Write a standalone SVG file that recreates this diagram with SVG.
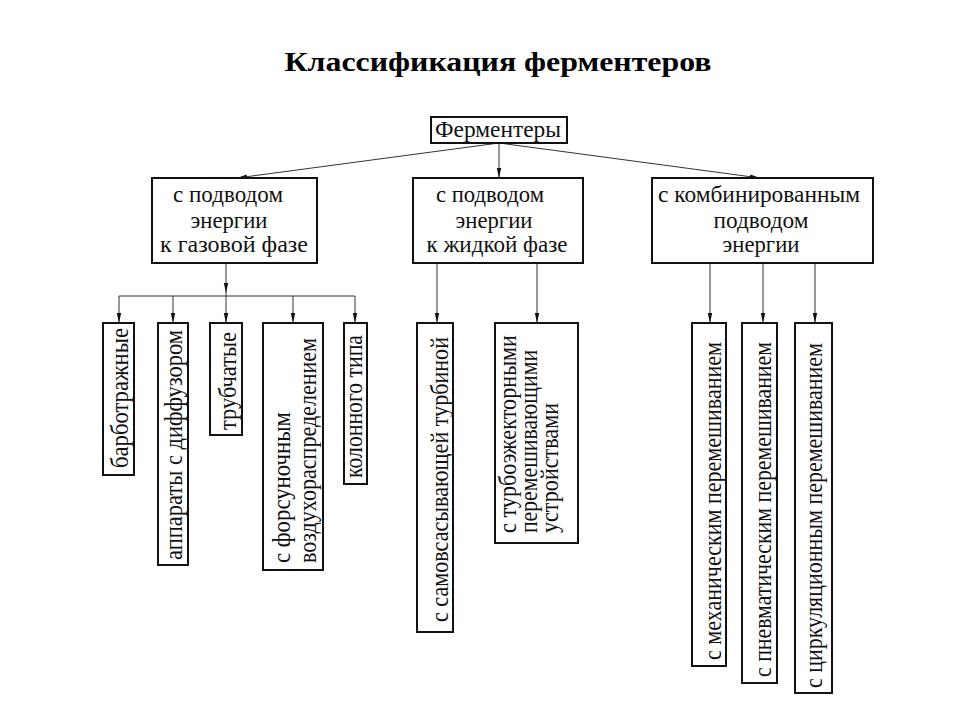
<svg xmlns="http://www.w3.org/2000/svg" width="960" height="720" viewBox="0 0 960 720">
<style>
.bg{fill:#fff}
.box{fill:#fff;stroke:#111;stroke-width:2}
.t{font-family:"Liberation Serif","Times New Roman",serif;fill:#111;font-size:23px}
.h{text-anchor:middle}
.v{font-size:26px}
.title{font-family:"Liberation Serif","Times New Roman",serif;font-weight:bold;font-size:28px;text-anchor:middle;fill:#000}
.c{stroke:#333;stroke-width:1;fill:none}
</style>
<defs>
<marker id="ar" markerUnits="userSpaceOnUse" markerWidth="10" markerHeight="6" viewBox="0 0 10 6" refX="10" refY="3" orient="auto">
<path d="M0,0.8 L10,3 L0,5.2 Z" fill="#111"/>
</marker>
</defs>
<rect class="bg" x="0" y="0" width="960" height="720"/>
<text class="title" x="498" y="71" textLength="427" lengthAdjust="spacingAndGlyphs">Классификация ферментеров</text>

<g id="connectors">
<line class="c" x1="499" y1="143" x2="237" y2="178" marker-end="url(#ar)"/>
<line class="c" x1="499" y1="143" x2="499" y2="178" marker-end="url(#ar)"/>
<line class="c" x1="499" y1="143" x2="760" y2="178" marker-end="url(#ar)"/>
<line class="c" x1="226" y1="263" x2="226" y2="293" marker-end="url(#ar)"/>
<line class="c" x1="119" y1="296" x2="355" y2="296"/>
<line class="c" x1="119" y1="296" x2="119" y2="323" marker-end="url(#ar)"/>
<line class="c" x1="173" y1="296" x2="173" y2="323" marker-end="url(#ar)"/>
<line class="c" x1="226" y1="293" x2="226" y2="323" marker-end="url(#ar)"/>
<line class="c" x1="293" y1="296" x2="293" y2="323" marker-end="url(#ar)"/>
<line class="c" x1="355" y1="296" x2="355" y2="323" marker-end="url(#ar)"/>
<line class="c" x1="437" y1="263" x2="437" y2="323" marker-end="url(#ar)"/>
<line class="c" x1="537" y1="263" x2="537" y2="323" marker-end="url(#ar)"/>
<line class="c" x1="710" y1="263" x2="710" y2="323" marker-end="url(#ar)"/>
<line class="c" x1="763" y1="263" x2="763" y2="323" marker-end="url(#ar)"/>
<line class="c" x1="815" y1="263" x2="815" y2="323" marker-end="url(#ar)"/>
</g>

<g id="root">
<rect class="box" x="431" y="117" width="136" height="26"/>
<text class="t h" x="498" y="137" font-size="22" textLength="126" lengthAdjust="spacingAndGlyphs">Ферментеры</text>
</g>

<g id="gas">
<rect class="box" x="152" y="178" width="165" height="85"/>
<text class="t h" x="228" y="202" textLength="110" lengthAdjust="spacingAndGlyphs">с подводом</text>
<text class="t h" x="229" y="228" textLength="77" lengthAdjust="spacingAndGlyphs">энергии</text>
<text class="t h" x="234" y="252" textLength="148" lengthAdjust="spacingAndGlyphs">к газовой фазе</text>
</g>

<g id="liquid">
<rect class="box" x="413" y="178" width="170" height="85"/>
<text class="t h" x="490" y="202" textLength="108" lengthAdjust="spacingAndGlyphs">с подводом</text>
<text class="t h" x="494" y="228" textLength="77" lengthAdjust="spacingAndGlyphs">энергии</text>
<text class="t h" x="497" y="252" textLength="141" lengthAdjust="spacingAndGlyphs">к жидкой фазе</text>
</g>

<g id="combined">
<rect class="box" x="652" y="178" width="221" height="85"/>
<text class="t h" x="759" y="202" textLength="202" lengthAdjust="spacingAndGlyphs">с комбинированным</text>
<text class="t h" x="761" y="228" textLength="95" lengthAdjust="spacingAndGlyphs">подводом</text>
<text class="t h" x="761" y="252" textLength="77" lengthAdjust="spacingAndGlyphs">энергии</text>
</g>

<g id="barbotage">
<rect class="box" x="103" y="323" width="31" height="152"/>
<text class="t v" transform="translate(128,468) rotate(-90)" textLength="140" lengthAdjust="spacingAndGlyphs">барботражные</text>
</g>
<g id="diffuser">
<rect class="box" x="158" y="323" width="30" height="242"/>
<text class="t v" transform="translate(182,560) rotate(-90)" textLength="230" lengthAdjust="spacingAndGlyphs">аппараты с диффузором</text>
</g>
<g id="tubular">
<rect class="box" x="210" y="323" width="32" height="112"/>
<text class="t v" transform="translate(236,430) rotate(-90)" textLength="98" lengthAdjust="spacingAndGlyphs">трубчатые</text>
</g>
<g id="nozzle">
<rect class="box" x="263" y="323" width="60" height="247"/>
<text class="t v" transform="translate(290,563) rotate(-90)" textLength="151" lengthAdjust="spacingAndGlyphs">с форсуночным</text>
<text class="t v" transform="translate(316,563) rotate(-90)" textLength="225" lengthAdjust="spacingAndGlyphs">воздухораспределением</text>
</g>
<g id="column">
<rect class="box" x="344" y="323" width="23" height="161"/>
<text class="t v" transform="translate(362,478) rotate(-90)" textLength="143" lengthAdjust="spacingAndGlyphs">колонного типа</text>
</g>

<g id="selfsuction">
<rect class="box" x="417" y="323" width="36" height="309"/>
<text class="t v" transform="translate(448,622) rotate(-90)" textLength="285" lengthAdjust="spacingAndGlyphs">с самовсасывающей турбиной</text>
</g>
<g id="turboejector">
<rect class="box" x="495" y="323" width="83" height="220"/>
<text class="t v" font-size="25" transform="translate(516,533) rotate(-90)" textLength="198" lengthAdjust="spacingAndGlyphs">с турбоэжекторными</text>
<text class="t v" font-size="25" transform="translate(537,533) rotate(-90)" textLength="183" lengthAdjust="spacingAndGlyphs">перемешивающими</text>
<text class="t v" font-size="25" transform="translate(558,533) rotate(-90)" textLength="130" lengthAdjust="spacingAndGlyphs">устройствами</text>
</g>

<g id="mechanical">
<rect class="box" x="692" y="323" width="34" height="343"/>
<text class="t v" transform="translate(721,660) rotate(-90)" textLength="318" lengthAdjust="spacingAndGlyphs">с механическим перемешиванием</text>
</g>
<g id="pneumatic">
<rect class="box" x="742" y="323" width="35" height="360"/>
<text class="t v" transform="translate(771,677) rotate(-90)" textLength="335" lengthAdjust="spacingAndGlyphs">с пневматическим перемешиванием</text>
</g>
<g id="circulation">
<rect class="box" x="795" y="323" width="37" height="370"/>
<text class="t v" transform="translate(822,688) rotate(-90)" textLength="345" lengthAdjust="spacingAndGlyphs">с циркуляционным перемешиванием</text>
</g>
</svg>
